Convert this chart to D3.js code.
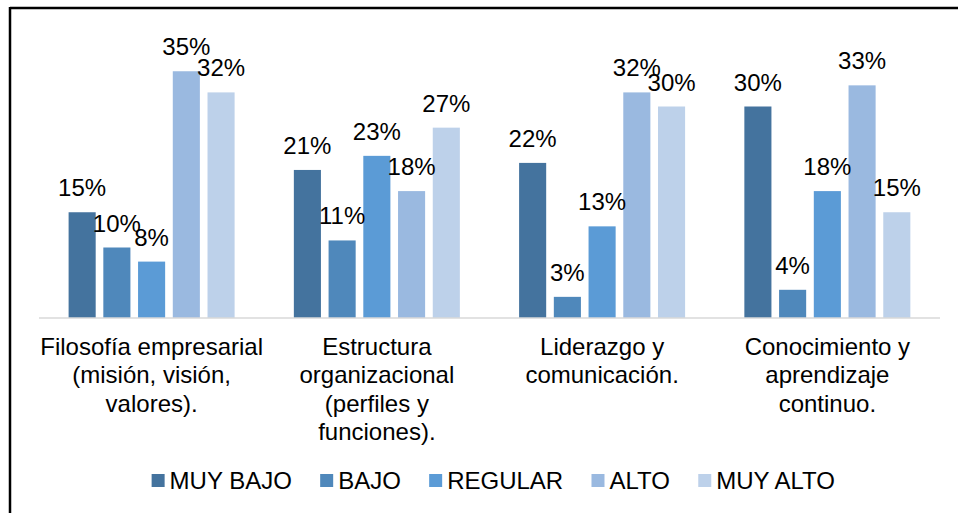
<!DOCTYPE html>
<html>
<head>
<meta charset="utf-8">
<script src="https://cdn.jsdelivr.net/npm/d3@7"></script>
<style>
  body { margin: 0; background: #fff; }
  text { font-family: "Liberation Sans", Arial, sans-serif; fill: #000; }
</style>
</head>
<body>
<div id="chart"></div>
<script>
// categories, series and values (percent)
var categories = [
  ["Filosofía empresarial", "(misión, visión,", "valores)."],
  ["Estructura", "organizacional", "(perfiles y", "funciones)."],
  ["Liderazgo y", "comunicación."],
  ["Conocimiento y", "aprendizaje", "continuo."]
]
var series = ["MUY BAJO", "BAJO", "REGULAR", "ALTO", "MUY ALTO"]
var colors = ["#44739e", "#4f88bb", "#5b9bd6", "#9ab9e0", "#bdd1ea"]
var values = [
  [15, 10, 8, 35, 32],
  [21, 11, 23, 18, 27],
  [22, 3, 13, 32, 30],
  [30, 4, 18, 33, 15]
]

var W = 958, H = 513
var FS = "24px"
var svg = d3.select("#chart").append("svg").attr("width", W).attr("height", H)

// frame (top + left edges visible)
svg.append("line").attr("x1", 10).attr("x2", W).attr("y1", 8).attr("y2", 8).attr("stroke", "#000").attr("stroke-width", 2.5)
svg.append("line").attr("x1", 10).attr("x2", 10).attr("y1", 7).attr("y2", H).attr("stroke", "#000").attr("stroke-width", 2.5)

var x0 = d3.scaleBand().domain(d3.range(categories.length)).range([39, 940])
var x1 = d3.scaleBand().domain(d3.range(series.length)).range([29.6, 195.6]).paddingInner(0.22)
var y = d3.scaleLinear().domain([0, 40]).range([318, 36])

var g = svg.append("g")
var groups = g.selectAll("g.cat").data(values).enter().append("g")
  .attr("class", "cat")
  .attr("transform", function(d, i) { return "translate(" + x0(i) + ",0)" })

groups.selectAll("rect").data(function(d) { return d }).enter().append("rect")
  .attr("x", function(d, j) { return x1(j) })
  .attr("width", x1.bandwidth())
  .attr("y", function(d) { return y(d) })
  .attr("height", function(d) { return y(0) - y(d) })
  .attr("fill", function(d, j) { return colors[j] })

groups.selectAll("text.lbl").data(function(d) { return d }).enter().append("text")
  .attr("class", "lbl")
  .attr("x", function(d, j) { return x1(j) + x1.bandwidth() / 2 })
  .attr("y", function(d) { return y(d) - 16 })
  .attr("text-anchor", "middle")
  .style("font-size", FS)
  .text(function(d) { return d + "%" })

// baseline
svg.append("line").attr("x1", 39).attr("x2", 940).attr("y1", 318).attr("y2", 318)
  .attr("stroke", "#d9d9d9").attr("stroke-width", 1.5)

// category labels
var catText = svg.selectAll("text.cat").data(categories).enter().append("text")
  .attr("class", "cat")
  .attr("text-anchor", "middle")
  .style("font-size", FS)
catText.selectAll("tspan").data(function(d, i) { return d.map(function(s) { return [s, i] }) }).enter().append("tspan")
  .attr("x", function(d) { return x0(d[1]) + x0.bandwidth() / 2 })
  .attr("y", function(d, k) { return 355 + k * 28.3 })
  .text(function(d) { return d[0] })

// legend
var leg = svg.append("g")
var lx = 0
series.forEach(function(s, i) {
  var it = leg.append("g").attr("transform", "translate(" + lx + ",0)")
  it.append("rect").attr("x", 0).attr("y", 474).attr("width", 13).attr("height", 13).attr("fill", colors[i])
  var t = it.append("text").attr("x", 18).attr("y", 489).style("font-size", FS).text(s)
  lx += 18 + t.node().getComputedTextLength() + 28.3
})
var legW = lx - 28.3
leg.attr("transform", "translate(" + (493.3 - legW / 2) + ",0)")
</script>
</body>
</html>
